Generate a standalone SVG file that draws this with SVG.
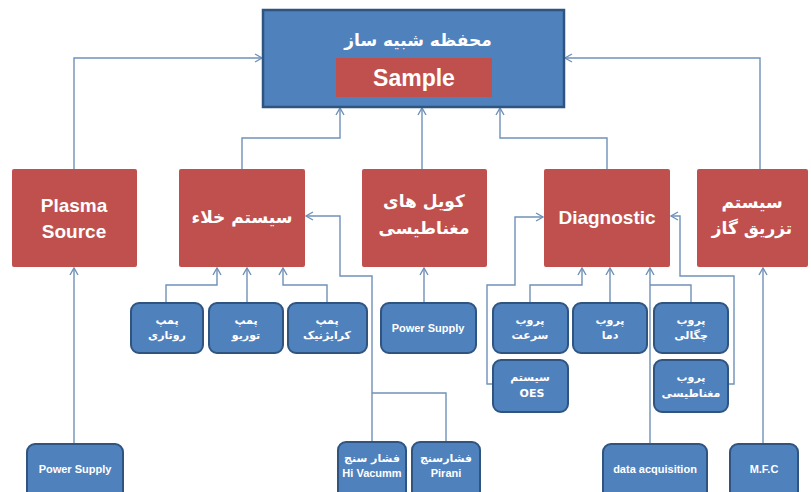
<svg xmlns="http://www.w3.org/2000/svg" width="811" height="492" viewBox="0 0 811 492">
<style>
.red{fill:#C0504D;}
.blue{fill:#4F81BD;stroke:#2F5480;stroke-width:2;}
.top{fill:#4F81BD;stroke:#2F5480;stroke-width:2.5;}
.t{fill:#fff;font-weight:bold;text-anchor:middle;font-family:"DejaVu Sans","Liberation Sans",sans-serif;}
.en{font-family:"Liberation Sans","DejaVu Sans",sans-serif;}
.big{font-size:17px;}
.ben{font-size:19px;}
.sm{font-size:11px;}
.c{fill:none;stroke:#6F91B8;stroke-width:1.4;}
</style>
<defs>
<marker id="ar" markerWidth="10" markerHeight="10" refX="8" refY="5" orient="auto" markerUnits="userSpaceOnUse">
<path d="M1,1 L8,5 L1,9" fill="none" stroke="#6F91B8" stroke-width="1.4"/>
</marker>
</defs>
<g id="connectors">
<path class="c" d="M74,170 V58 H262" marker-end="url(#ar)"/>
<path class="c" d="M760,170 V58 H565" marker-end="url(#ar)"/>
<path class="c" d="M242,169 V138 H340 V108" marker-end="url(#ar)"/>
<path class="c" d="M422,169 V108" marker-end="url(#ar)"/>
<path class="c" d="M607,169 V138 H500 V108" marker-end="url(#ar)"/>
<path class="c" d="M74,444 V268" marker-end="url(#ar)"/>
<path class="c" d="M166,303 V285 H217 V268" marker-end="url(#ar)"/>
<path class="c" d="M247,303 V268" marker-end="url(#ar)"/>
<path class="c" d="M327,303 V285 H283 V268" marker-end="url(#ar)"/>
<path class="c" d="M372,442 V276 H340 V216 H306" marker-end="url(#ar)"/>
<path class="c" d="M446,442 V393 H372"/>
<path class="c" d="M424,303 V268" marker-end="url(#ar)"/>
<path class="c" d="M493,384 H487 V285 H515 V217 H543" marker-end="url(#ar)"/>
<path class="c" d="M530,303 V285 H582 V268" marker-end="url(#ar)"/>
<path class="c" d="M610,303 V268" marker-end="url(#ar)"/>
<path class="c" d="M650,444 V268" marker-end="url(#ar)"/>
<path class="c" d="M691,303 V285 H650"/>
<path class="c" d="M728,384 H734 V276 H680 V216 H671" marker-end="url(#ar)"/>
<path class="c" d="M763,444 V268" marker-end="url(#ar)"/>
</g>
<g id="chamber">
<rect class="top" x="263" y="10" width="301" height="97"/>
<text class="t big" x="418" y="46">محفظه شبیه ساز</text>
<rect class="red" x="336" y="58" width="156" height="39"/>
<text class="t en" x="414" y="86" font-size="23">Sample</text>
</g>
<g id="plasma-source">
<rect class="red" x="12" y="169" width="125" height="98" rx="2"/>
<text class="t en ben" x="74" y="212">Plasma</text>
<text class="t en ben" x="74" y="238">Source</text>
</g>
<g id="vacuum-system">
<rect class="red" x="179" y="169" width="126" height="98" rx="2"/>
<text class="t big" x="242" y="223">سیستم خلاء</text>
</g>
<g id="magnetic-coils">
<rect class="red" x="362" y="169" width="125" height="98" rx="2"/>
<text class="t big" x="424" y="207">کویل های</text>
<text class="t big" x="424" y="234">مغناطیسی</text>
</g>
<g id="diagnostic">
<rect class="red" x="544" y="169" width="126" height="98" rx="2"/>
<text class="t en ben" x="607" y="224">Diagnostic</text>
</g>
<g id="gas-injection">
<rect class="red" x="697" y="169" width="111" height="98" rx="2"/>
<text class="t big" x="752" y="208">سیستم</text>
<text class="t big" x="752" y="234">تزریق گاز</text>
</g>
<g id="rotary-pump">
<rect class="blue" x="131" y="303" width="72" height="50" rx="8"/>
<text class="t sm" x="167" y="324">پمپ</text>
<text class="t sm" x="167" y="339">روتاری</text>
</g>
<g id="turbo-pump">
<rect class="blue" x="209" y="303" width="74" height="50" rx="8"/>
<text class="t sm" x="246" y="324">پمپ</text>
<text class="t sm" x="246" y="339">توربو</text>
</g>
<g id="cryo-pump">
<rect class="blue" x="288" y="303" width="79" height="50" rx="8"/>
<text class="t sm" x="327" y="324">پمپ</text>
<text class="t sm" x="327" y="339">کرایژنیک</text>
</g>
<g id="coil-power-supply">
<rect class="blue" x="381" y="303" width="95" height="50" rx="8"/>
<text class="t en sm" x="428" y="332">Power Supply</text>
</g>
<g id="velocity-probe">
<rect class="blue" x="493" y="303" width="75" height="50" rx="8"/>
<text class="t sm" x="530" y="324">پروب</text>
<text class="t sm" x="530" y="339">سرعت</text>
</g>
<g id="temperature-probe">
<rect class="blue" x="573" y="303" width="74" height="50" rx="8"/>
<text class="t sm" x="610" y="324">پروب</text>
<text class="t sm" x="610" y="339">دما</text>
</g>
<g id="density-probe">
<rect class="blue" x="654" y="303" width="74" height="50" rx="8"/>
<text class="t sm" x="691" y="324">پروب</text>
<text class="t sm" x="691" y="339">چگالی</text>
</g>
<g id="oes-system">
<rect class="blue" x="493" y="360" width="75" height="52" rx="8"/>
<text class="t sm" x="530" y="381">سیستم</text>
<text class="t sm" x="532" y="397" font-family="Liberation Serif,serif">OES</text>
</g>
<g id="magnetic-probe">
<rect class="blue" x="654" y="360" width="74" height="52" rx="8"/>
<text class="t sm" x="691" y="381">پروب</text>
<text class="t sm" x="691" y="397">مغناطیسی</text>
</g>
<g id="plasma-power-supply">
<rect class="blue" x="27" y="444" width="96" height="56" rx="8"/>
<text class="t en sm" x="75" y="473">Power Supply</text>
</g>
<g id="hi-vacuum-gauge">
<rect class="blue" x="338" y="442" width="68" height="58" rx="8"/>
<text class="t sm" x="372" y="462">فشار سنج</text>
<text class="t en sm" x="372" y="477">Hi Vacumm</text>
</g>
<g id="pirani-gauge">
<rect class="blue" x="412" y="442" width="68" height="58" rx="8"/>
<text class="t sm" x="446" y="462">فشارسنج</text>
<text class="t en sm" x="446" y="477">Pirani</text>
</g>
<g id="data-acquisition">
<rect class="blue" x="603" y="444" width="104" height="56" rx="8"/>
<text class="t en sm" x="655" y="473">data acquisition</text>
</g>
<g id="mfc">
<rect class="blue" x="730" y="444" width="68" height="56" rx="8"/>
<text class="t en sm" x="764" y="473">M.F.C</text>
</g>
</svg>
